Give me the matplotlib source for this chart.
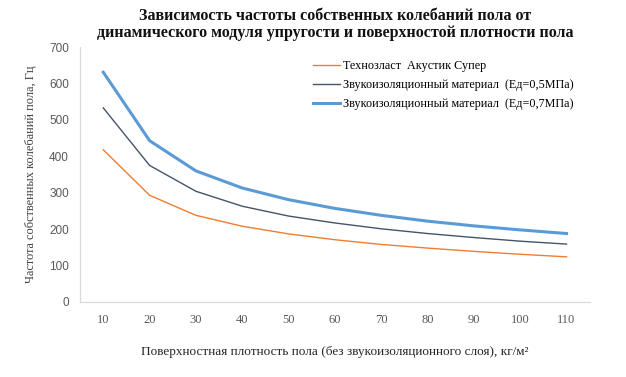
import numpy as np
import matplotlib
matplotlib.use("Agg")
import matplotlib.pyplot as plt

# surface density of the floor, kg/m2
density = [10, 20, 30, 40, 50, 60, 70, 80, 90, 100, 110]

# natural frequency of the floor, Hz
tehnoelast = [418, 293, 238, 208, 187, 171, 158, 148, 139, 131, 124]
mat_05 = [533, 375, 304, 263, 236, 217, 201, 188, 177, 167, 159]
mat_07 = [631, 443, 360, 313, 281, 257, 238, 222, 209, 198, 188]

labels = ["Технозласт  Акустик Супер",
          "Звукоизоляционный материал  (Ед=0,5МПа)",
          "Звукоизоляционный материал  (Ед=0,7МПа)"]
y_ticks = [0, 100, 200, 300, 400, 500, 600, 700]

serif = "Liberation Serif"

fig = plt.figure(figsize=(6.26, 3.77), dpi=100)
ax = fig.add_axes([0.128, 0.199, 0.814, 0.676])

x = np.arange(1, len(density) + 1)
ax.plot(x, tehnoelast, color="#ED7D31", lw=1.0, label=labels[0])
ax.plot(x, mat_05, color="#44546A", lw=1.0, label=labels[1])
ax.plot(x, mat_07, color="#5B9BD5", lw=2.2, label=labels[2])

ax.set_xlim(0.5, len(density) + 0.5)
ax.set_ylim(0, 700)
ax.set_xticks(x)
ax.set_xticklabels([str(d) for d in density], family=serif, fontsize=9, color="#595959")
ax.set_yticks(y_ticks)
ax.set_yticklabels([str(v) for v in y_ticks], family="Liberation Sans", fontsize=8.5, color="#595959")
ax.tick_params(length=0, pad=9)
ax.tick_params(axis="y", pad=8)

for s in ["top", "right"]:
    ax.spines[s].set_visible(False)
for s in ["left", "bottom"]:
    ax.spines[s].set_color("#D9D9D9")
    ax.spines[s].set_linewidth(0.9)

ax.set_ylabel("Частота собственных колебаний пола, Гц", family=serif,
              fontsize=8.9, color="#404040", labelpad=9)
ax.set_xlabel("Поверхностная плотность пола (без звукоизоляционного слоя), кг/м²",
              family=serif, fontsize=9.5, color="#262626", labelpad=14)

fig.text(0.535, 0.98, "Зависимость частоты собственных колебаний пола от\n"
         "динамического модуля упругости и поверхностой плотности пола",
         ha="center", va="top", family=serif, fontweight="bold",
         fontsize=11.5, linespacing=1.1, color="#111111")

leg = ax.legend(loc="upper left", bbox_to_anchor=(0.435, 0.993), frameon=False,
                prop={"family": serif, "size": 8.7}, handlelength=2.3,
                handletextpad=0.25, labelspacing=0.6)

fig.savefig("out.png", dpi=100)
